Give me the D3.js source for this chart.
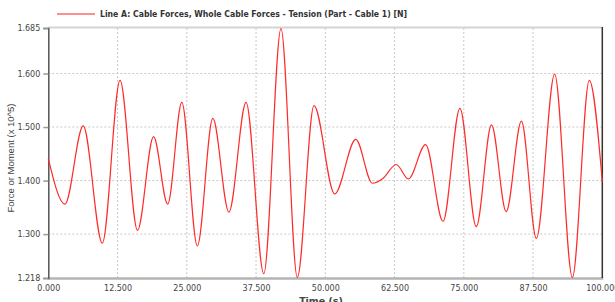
<!DOCTYPE html>
<html>
<head>
<meta charset="utf-8">
<script src="https://cdn.jsdelivr.net/npm/d3@7"></script>
<style>
  html, body { margin: 0; padding: 0; background: #fff; }
  svg { display: block; }
</style>
</head>
<body>
<svg id="chart" width="615" height="302"></svg>
<script>
// ---- data ----
const seriesName = "Line A: Cable Forces, Whole Cable Forces - Tension (Part - Cable 1) [N]";
const times = [0, 3.0, 6.3, 9.75, 12.95, 16.1, 19.0, 21.55, 24.1, 26.9, 29.7, 32.6, 35.7, 38.9, 42.0, 44.95, 47.96,
  51.7, 55.5, 58.5, 60.4, 62.8, 65.0, 68.1, 71.25, 74.3, 77.25, 80.0, 82.65, 85.4, 88.1, 91.4, 94.6, 97.65, 100];
const values = [1.441, 1.356, 1.502, 1.283, 1.587, 1.307, 1.482, 1.356, 1.546, 1.278, 1.516, 1.341, 1.546, 1.226, 1.684, 1.219, 1.540,
  1.375, 1.477, 1.395, 1.404, 1.430, 1.403, 1.467, 1.324, 1.535, 1.314, 1.504, 1.342, 1.511, 1.292, 1.599, 1.219, 1.587, 1.398];
const xTicks = [0, 12.5, 25, 37.5, 50, 62.5, 75, 87.5, 100];
const yTicks = [1.218, 1.3, 1.4, 1.5, 1.6, 1.685];
const xTitle = "Time (s)";
const yTitle = "Force or Moment (x 10^5)";

// ---- layout ----
const svg = d3.select("#chart");
const m = { left: 48.3, right: 602.3, top: 28, bottom: 278 };
const x = d3.scaleLinear().domain([0, 100]).range([m.left, m.right]);
const y = d3.scaleLinear().domain([1.218, 1.685]).range([m.bottom, m.top]);

const tickFont = "'DejaVu Sans', sans-serif";

// grid
const grid = svg.append("g");
grid.selectAll("line.v").data(xTicks.slice(1, -1)).join("line")
  .attr("x1", d => x(d)).attr("x2", d => x(d))
  .attr("y1", m.top).attr("y2", m.bottom)
  .attr("stroke", "#c8c8c8").attr("stroke-width", 1).attr("stroke-dasharray", "2,2");
grid.selectAll("line.h").data(yTicks.slice(1, -1)).join("line")
  .attr("x1", m.left).attr("x2", m.right)
  .attr("y1", d => y(d)).attr("y2", d => y(d))
  .attr("stroke", "#c8c8c8").attr("stroke-width", 1).attr("stroke-dasharray", "2,2");

// frame
svg.append("line").attr("x1", m.left).attr("x2", m.right).attr("y1", m.top - 0.5).attr("y2", m.top - 0.5)
  .attr("stroke", "#d4d4d4").attr("stroke-width", 2);
svg.append("line").attr("x1", m.left).attr("x2", m.right + 1).attr("y1", m.bottom + 0.5).attr("y2", m.bottom + 0.5)
  .attr("stroke", "#b4b4b4").attr("stroke-width", 2.5);
svg.append("line").attr("x1", m.right).attr("x2", m.right).attr("y1", m.top - 1).attr("y2", m.bottom)
  .attr("stroke", "#333").attr("stroke-width", 1.5);

// y axis
const yAxis = d3.axisLeft(y).tickValues(yTicks).tickFormat(d3.format(".3f")).tickSize(5).tickPadding(3);
const gy = svg.append("g").attr("transform", `translate(${m.left},0)`).call(yAxis);
gy.select(".domain").attr("stroke", "#555").attr("stroke-width", 1.5);
gy.selectAll(".tick line").attr("stroke", "#999").attr("stroke-width", 1.5);
gy.selectAll(".tick text").attr("font-family", tickFont).attr("font-size", 8).attr("fill", "#444");

// x axis
const xAxis = d3.axisBottom(x).tickValues(xTicks).tickFormat(d3.format(".3f")).tickSize(0).tickPadding(7);
const gx = svg.append("g").attr("transform", `translate(0,${m.bottom})`).call(xAxis);
gx.select(".domain").remove();
gx.selectAll(".tick text").attr("font-family", tickFont).attr("font-size", 8).attr("fill", "#444");

// series line
const pts = times.map((t, i) => [t, values[i]]);
svg.append("path").datum(pts)
  .attr("fill", "none").attr("stroke", "#ff2a2a").attr("stroke-width", 1.2)
  .attr("d", d3.line().x(d => x(d[0])).y(d => y(d[1])).curve(d3.curveMonotoneX));

// legend
svg.append("line").attr("x1", 57).attr("x2", 95).attr("y1", 14).attr("y2", 14)
  .attr("stroke", "#ff6a6a").attr("stroke-width", 1.5);
svg.append("text").attr("x", 100).attr("y", 17)
  .attr("font-family", tickFont).attr("font-weight", "bold").attr("font-size", 8)
  .attr("fill", "#333").attr("textLength", 307).attr("lengthAdjust", "spacingAndGlyphs")
  .text(seriesName);

// axis titles
svg.append("text").attr("transform", "translate(14,158) rotate(-90)")
  .attr("text-anchor", "middle")
  .attr("font-family", "'Liberation Sans Narrow', 'Liberation Sans', sans-serif").attr("font-size", 9.5)
  .attr("fill", "#444").text(yTitle);
svg.append("text").attr("x", 321).attr("y", 304).attr("text-anchor", "middle")
  .attr("font-family", tickFont).attr("font-weight", "bold").attr("font-size", 9.5)
  .attr("fill", "#444").text(xTitle);
</script>
</body>
</html>
